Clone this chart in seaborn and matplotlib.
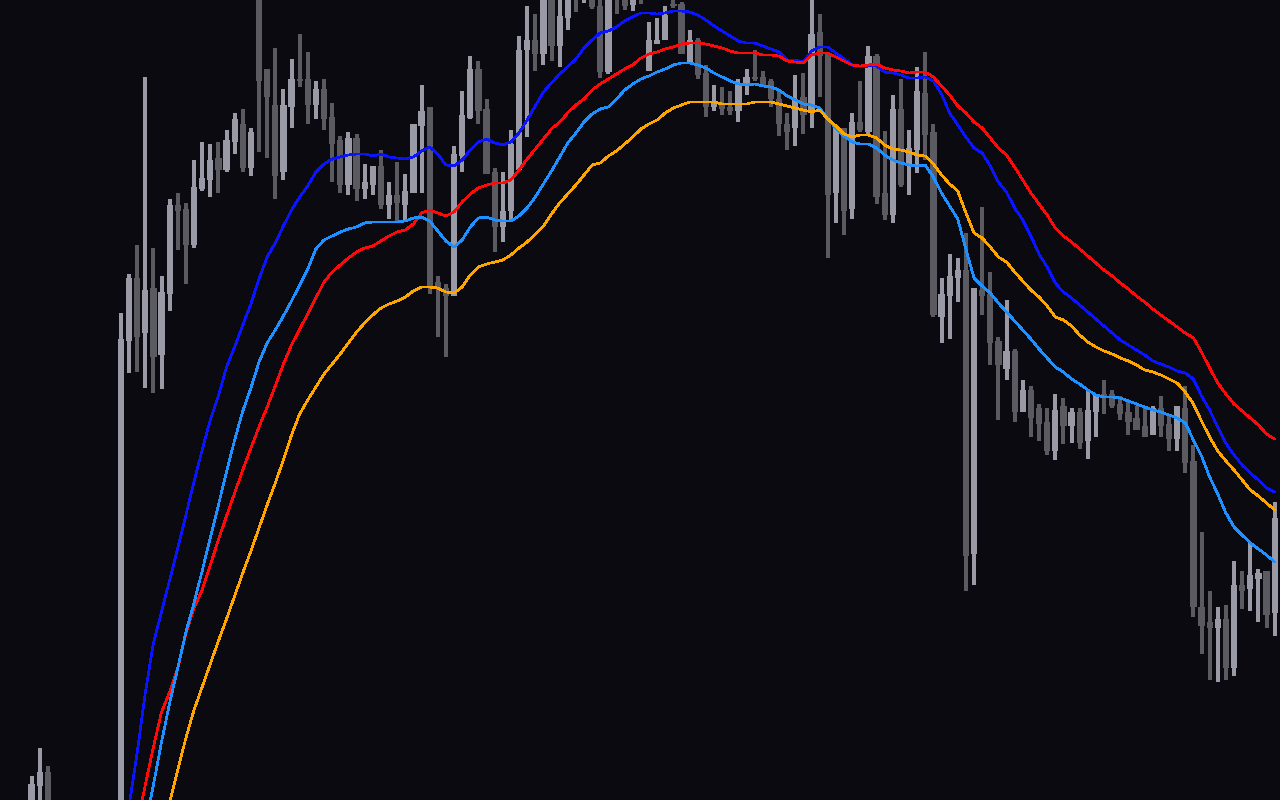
import numpy as np
import pandas as pd
import seaborn as sns
import matplotlib.pyplot as plt

# candle index of every visible bar (bars 3-10 sit below the visible price range)
bar = [0, 1, 2] + list(range(11, 154))

opens = [-12, 14, 28,
         -50, 459, 522, 467, 512, 445, 506, 595, 591,
         555, 611, 620, 642, 630, 658, 676, 632, 805, 731,
         695, 628, 693, 721, 721, 695, 711, 683, 660, 615,
         662, 611, 615, 634, 595, 605, 595, 607, 674, 693,
         518, 512, 504, 644, 682, 731, 691, 628, 573, 589,
         630, 750, 760, 746, 802, 754, 782, 830, 805, 810,
         794, 728, 820, 805, 795, 815, 729, 756, 760, 796,
         796, 737, 760, 727, 693, 696, 693, 689, 714, 723,
         723, 719, 701, 676, 672, 703, 689, 768, 746, 607,
         672, 591, 678, 668, 744, 607, 585, 691, 635, 650,
         707, 668, 483, 504, 522, 530, 246, 510, 506, 459,
         431, 449, 388, 410, 392, 378, 349, 394, 374, 388,
         359, 388, 406, 406, 396, 388, 382, 374, 365, 392,
         376, 361, 392, 339, 193, 178, 172, 181, 132, 215,
         211, 221, 229, 187]

highs = [24, 52, 34,
         487, 526, 555, 723, 552, 524, 601, 607, 597,
         640, 658, 656, 658, 670, 687, 691, 672, 820, 731,
         752, 711, 741, 766, 748, 719, 721, 697, 664, 668,
         666, 636, 634, 650, 618, 638, 626, 676, 715, 693,
         524, 516, 654, 709, 744, 739, 701, 632, 628, 670,
         764, 794, 786, 810, 815, 805, 810, 850, 840, 830,
         805, 810, 840, 820, 820, 830, 778, 782, 794, 805,
         798, 770, 762, 735, 715, 713, 709, 721, 731, 750,
         729, 721, 711, 687, 725, 727, 800, 786, 746, 674,
         672, 687, 719, 754, 746, 669, 705, 721, 670, 733,
         748, 676, 522, 546, 542, 567, 512, 593, 528, 463,
         500, 451, 420, 414, 396, 392, 406, 402, 392, 392,
         410, 406, 420, 410, 404, 400, 394, 392, 394, 404,
         384, 394, 414, 355, 268, 209, 193, 195, 239, 229,
         257, 231, 229, 298]

lows = [-15, -10, -18,
        -70, 427, 428, 412, 407, 411, 489, 550, 516,
        552, 609, 603, 607, 628, 646, 628, 624, 648, 642,
        601, 620, 672, 713, 676, 681, 670, 618, 607, 605,
        599, 601, 605, 591, 581, 579, 579, 607, 607, 506,
        463, 443, 504, 628, 681, 676, 626, 548, 558, 580,
        630, 663, 729, 735, 739, 733, 770, 788, 797, 791,
        722, 726, 786, 790, 789, 796, 729, 756, 760, 792,
        746, 736, 721, 683, 689, 685, 685, 678, 705, 719,
        714, 693, 664, 650, 654, 666, 672, 703, 542, 577,
        565, 581, 668, 666, 596, 580, 577, 613, 605, 627,
        640, 483, 457, 461, 498, 209, 215, 485, 435, 380,
        420, 378, 388, 363, 359, 345, 340, 356, 357, 351,
        341, 363, 386, 392, 380, 365, 370, 363, 365, 363,
        349, 349, 327, 183, 146, 120, 118, 120, 124, 191,
        189, 178, 172, 164]

closes = [16, 28, -12,
          461, 522, 463, 510, 443, 508, 595, 589, 555,
          613, 622, 640, 630, 660, 681, 632, 668, 719, 703,
          624, 695, 721, 719, 695, 711, 681, 656, 615, 662,
          611, 618, 634, 595, 605, 597, 609, 676, 689, 514,
          512, 504, 646, 685, 731, 689, 626, 573, 589, 656,
          750, 760, 746, 802, 754, 784, 804, 805, 830, 793,
          728, 802, 803, 794, 810, 803, 760, 760, 785, 794,
          746, 760, 725, 693, 698, 691, 689, 716, 723, 721,
          714, 701, 676, 668, 701, 685, 766, 744, 605, 674,
          589, 678, 670, 744, 603, 585, 691, 615, 652, 709,
          665, 485, 506, 524, 530, 244, 512, 504, 457, 435,
          449, 388, 410, 382, 376, 349, 390, 374, 388, 357,
          390, 406, 404, 394, 386, 378, 370, 363, 392, 374,
          361, 394, 337, 193, 174, 172, 181, 132, 215, 209,
          225, 227, 185, 282]

# moving averages, one value per bar from bar 12 on
ma_bar = list(range(12, 154))

ma_blue = [-6, 47, 107, 157, 188, 220, 252, 285, 318, 350,
           380, 404, 433, 453, 475, 496, 521, 543, 557, 574,
           590, 603, 614, 628, 636, 641, 643, 645, 646, 646,
           644, 646, 643, 642, 641, 643, 649, 653, 646, 635,
           634, 640, 650, 658, 661, 657, 655, 658, 667, 680,
           694, 708, 717, 726, 733, 741, 752, 760, 767, 769,
           773, 779, 783, 787, 787, 786, 787, 789, 789, 788,
           785, 780, 774, 769, 764, 759, 757, 757, 754, 751,
           748, 740, 740, 738, 749, 753, 753, 747, 741, 735,
           733, 734, 734, 728, 727, 725, 722, 722, 723, 719,
           706, 687, 675, 663, 652, 647, 634, 618, 608, 592,
           580, 564, 546, 533, 517, 508, 502, 495, 488, 481,
           474, 467, 460, 455, 450, 445, 439, 436, 433, 429,
           427, 421, 404, 390, 373, 357, 345, 335, 327, 320,
           312, 308]

ma_red = [-60, -25, 15, 53, 88, 108, 132, 167, 192, 210,
          235, 260, 284, 307, 330, 352, 373, 393, 414, 436,
          455, 471, 486, 502, 518, 528, 535, 542, 548, 552,
          554, 559, 564, 568, 570, 576, 587, 590, 587, 584,
          588, 598, 606, 612, 615, 617, 617, 620, 630, 641,
          651, 661, 671, 678, 687, 695, 701, 710, 716, 721,
          726, 731, 735, 742, 746, 748, 751, 753, 756, 757,
          757, 756, 754, 752, 749, 747, 747, 747, 745, 745,
          744, 739, 738, 737, 745, 747, 747, 743, 739, 735,
          734, 735, 736, 732, 730, 729, 727, 728, 728, 723,
          714, 705, 694, 687, 678, 672, 662, 652, 645, 633,
          620, 607, 596, 585, 572, 564, 558, 551, 544, 537,
          530, 524, 517, 511, 504, 498, 491, 485, 479, 473,
          467, 462, 448, 432, 417, 406, 396, 389, 382, 375,
          366, 361]

ma_dodger = [-106, -66, -25, 15, 58, 97, 132, 168, 197, 229,
             262, 295, 328, 360, 389, 412, 438, 457, 470, 484,
             499, 515, 531, 551, 560, 564, 568, 571, 573, 577,
             578, 578, 578, 578, 579, 582, 583, 579, 569, 559,
             553, 560, 573, 582, 583, 580, 579, 579, 584, 592,
             603, 616, 629, 643, 657, 667, 678, 686, 691, 693,
             701, 710, 716, 721, 724, 728, 731, 735, 737, 737,
             735, 732, 727, 723, 719, 716, 715, 716, 714, 713,
             710, 704, 700, 696, 695, 692, 681, 672, 664, 658,
             656, 656, 652, 645, 640, 637, 635, 634, 635, 623,
             607, 594, 581, 551, 522, 514, 507, 497, 488, 479,
             470, 461, 451, 442, 433, 428, 421, 416, 410, 405,
             403, 403, 402, 399, 396, 393, 390, 388, 385, 382,
             377, 360, 344, 323, 306, 287, 273, 265, 257, 251,
             245, 238]

ma_orange = [-176, -141, -106, -71, -37, -2, 30, 62, 90, 113,
             136, 159, 181, 204, 227, 249, 272, 295, 317, 340,
             365, 386, 400, 413, 426, 436, 446, 457, 468, 477,
             485, 492, 496, 499, 503, 509, 513, 513, 512, 508,
             507, 513, 525, 533, 536, 538, 540, 545, 552, 558,
             566, 574, 586, 597, 606, 615, 625, 635, 637, 644,
             649, 656, 663, 671, 676, 680, 687, 692, 695, 698,
             698, 698, 698, 696, 696, 696, 696, 698, 698, 698,
             696, 694, 692, 690, 688, 690, 681, 674, 666, 663,
             665, 665, 662, 655, 651, 650, 648, 645, 644, 636,
             625, 616, 609, 587, 567, 562, 553, 543, 538, 528,
             519, 510, 503, 494, 483, 480, 474, 465, 458, 453,
             449, 446, 442, 439, 435, 430, 428, 425, 421, 417,
             408, 396, 379, 363, 349, 339, 330, 320, 310, 304,
             297, 290]

BG = '#0a0a10'
UP = '#9a9aa6'
DOWN = '#5a5a60'

sns.set_theme(style='dark', rc={'axes.facecolor': BG, 'figure.facecolor': BG})

fig = plt.figure(figsize=(12.8, 8), dpi=100)
ax = fig.add_axes([0, 0, 1, 1])

candles = pd.DataFrame({'bar': bar, 'open': opens, 'high': highs,
                        'low': lows, 'close': closes})
colors = np.where(candles['close'] >= candles['open'], UP, DOWN)
ax.vlines(candles['bar'], candles['low'], candles['high'],
          colors=colors, linewidth=1.45, antialiased=False)
body_low = candles[['open', 'close']].min(axis=1)
body_h = (candles['close'] - candles['open']).abs().clip(lower=1.5)
ax.bar(candles['bar'], body_h, bottom=body_low, width=0.77,
       color=colors, linewidth=0, antialiased=False)

ma = pd.DataFrame({'bar': ma_bar, 'blue': ma_blue, 'red': ma_red,
                   'dodger': ma_dodger, 'orange': ma_orange})
ma = ma.melt(id_vars='bar', var_name='line', value_name='price')
palette = {'blue': '#0a14ff', 'red': '#ff0a0a',
           'dodger': '#1e90ff', 'orange': '#ffa500'}
sns.lineplot(data=ma, x='bar', y='price', hue='line', palette=palette,
             estimator=None, linewidth=1.2, legend=False, ax=ax,
             antialiased=False)

ax.set_xlim(-3.88, 153.66)
ax.set_ylim(0, 800)
ax.axis('off')

fig.savefig('out.png', dpi=100, facecolor=BG)
